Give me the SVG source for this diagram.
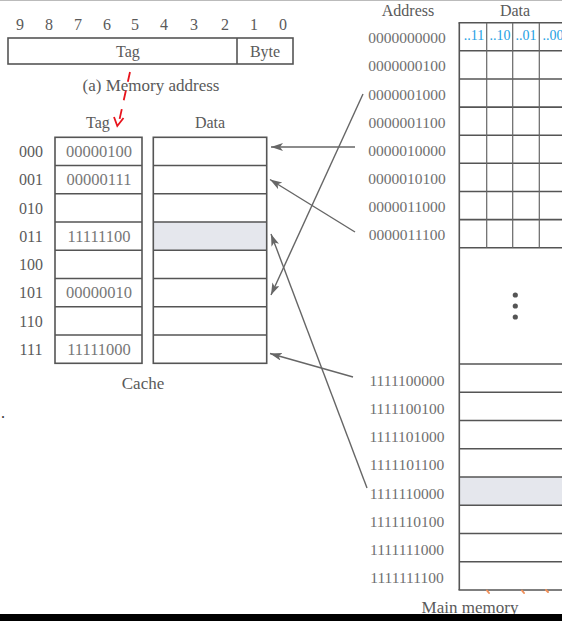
<svg xmlns="http://www.w3.org/2000/svg" width="562" height="621" viewBox="0 0 562 621">
<style>
  text { font-family: "Liberation Serif", "Times New Roman", serif; fill: #666; }
  .hdr { font-size: 16px; fill: #5a5a5a; text-anchor: middle; }
  .cap { font-size: 17px; fill: #5a5a5a; text-anchor: middle; }
  .lbl { font-size: 16px; fill: #5a5a5a; text-anchor: middle; }
  .val { font-size: 16.5px; fill: #777; text-anchor: middle; }
  .adr { font-size: 15.5px; fill: #707070; text-anchor: middle; }
  .blue { font-size: 14px; fill: #1e9fe3; text-anchor: middle; }
  .box { fill: none; stroke: #555; stroke-width: 1.6; }
  .ln { stroke: #555; stroke-width: 1.6; fill: none; }
  .thin { stroke: #666; stroke-width: 1.2; fill: none; }
  .shade { fill: #e5e7ed; }
  .conn { stroke: #666; stroke-width: 1.4; fill: none; marker-end: url(#arr); }
</style>
<defs>
  <marker id="arr" markerUnits="userSpaceOnUse" markerWidth="14" markerHeight="10" refX="12" refY="4" orient="auto">
    <path d="M0,0 L12,4 L0,8 L3,4 z" fill="#666"/>
  </marker>
</defs>
<rect width="562" height="621" fill="#fff"/>
<line x1="0" y1="0.5" x2="562" y2="0.5" stroke="#bbb" stroke-width="1"/>

<g id="memory-address">
  <text class="lbl" x="20" y="30">9</text>
  <text class="lbl" x="49" y="30">8</text>
  <text class="lbl" x="78" y="30">7</text>
  <text class="lbl" x="107" y="30">6</text>
  <text class="lbl" x="135" y="30">5</text>
  <text class="lbl" x="164" y="30">4</text>
  <text class="lbl" x="194" y="30">3</text>
  <text class="lbl" x="225" y="30">2</text>
  <text class="lbl" x="254" y="30">1</text>
  <text class="lbl" x="283" y="30">0</text>
  <rect class="box" x="8" y="38" width="285" height="26"/>
  <line class="ln" x1="237" y1="38" x2="237" y2="64"/>
  <text class="lbl" x="128" y="57">Tag</text>
  <text class="lbl" x="265" y="57">Byte</text>
  <text class="cap" x="151" y="91">(a) Memory address</text>
</g>

<g id="red-arrow">
  <line x1="130" y1="72" x2="118.5" y2="124" stroke="#e8141c" stroke-width="1.8" stroke-dasharray="10,9"/>
  <path d="M114,117 L117.3,126 L123.5,118" fill="none" stroke="#e8141c" stroke-width="1.8"/>
</g>

<g id="cache">
  <text class="hdr" x="98" y="128">Tag</text>
  <text class="hdr" x="210" y="128">Data</text>
  <rect class="shade" x="153.3" y="221.8" width="113.4" height="28.2"/>
  <rect class="box" x="55" y="137.3" width="87" height="226"/>
  <rect class="box" x="153.3" y="137.3" width="113.4" height="226"/>
  <g class="ln">
    <line x1="55" y1="165.5" x2="142" y2="165.5"/><line x1="153.3" y1="165.5" x2="266.7" y2="165.5"/>
    <line x1="55" y1="193.8" x2="142" y2="193.8"/><line x1="153.3" y1="193.8" x2="266.7" y2="193.8"/>
    <line x1="55" y1="222" x2="142" y2="222"/><line x1="153.3" y1="222" x2="266.7" y2="222"/>
    <line x1="55" y1="250.3" x2="142" y2="250.3"/><line x1="153.3" y1="250.3" x2="266.7" y2="250.3"/>
    <line x1="55" y1="278.5" x2="142" y2="278.5"/><line x1="153.3" y1="278.5" x2="266.7" y2="278.5"/>
    <line x1="55" y1="306.8" x2="142" y2="306.8"/><line x1="153.3" y1="306.8" x2="266.7" y2="306.8"/>
    <line x1="55" y1="335" x2="142" y2="335"/><line x1="153.3" y1="335" x2="266.7" y2="335"/>
  </g>
  <text class="lbl" x="31" y="157">000</text>
  <text class="lbl" x="31" y="185.2">001</text>
  <text class="lbl" x="31" y="213.5">010</text>
  <text class="lbl" x="31" y="241.7">011</text>
  <text class="lbl" x="31" y="270">100</text>
  <text class="lbl" x="31" y="298.2">101</text>
  <text class="lbl" x="31" y="326.5">110</text>
  <text class="lbl" x="31" y="354.7">111</text>
  <text class="val" x="99" y="157">00000100</text>
  <text class="val" x="99" y="185.2">00000111</text>
  <text class="val" x="99" y="241.7">11111100</text>
  <text class="val" x="99" y="298.2">00000010</text>
  <text class="val" x="99" y="354.7">11111000</text>
  <text class="cap" x="143" y="389">Cache</text>
</g>

<g id="main-memory">
  <text class="hdr" x="408" y="16">Address</text>
  <text class="hdr" x="515" y="16">Data</text>
  <rect class="shade" x="459.3" y="477" width="103" height="28.3"/>
  <g class="ln">
    <line x1="459.3" y1="22.7" x2="459.3" y2="590"/>
    <line x1="458.5" y1="22.7" x2="562" y2="22.7"/>
    <line x1="459.3" y1="50.8" x2="562" y2="50.8"/>
    <line x1="459.3" y1="79" x2="562" y2="79"/>
    <line x1="459.3" y1="107.1" x2="562" y2="107.1"/>
    <line x1="459.3" y1="135.2" x2="562" y2="135.2"/>
    <line x1="459.3" y1="163.3" x2="562" y2="163.3"/>
    <line x1="459.3" y1="191.5" x2="562" y2="191.5"/>
    <line x1="459.3" y1="219.6" x2="562" y2="219.6"/>
    <line x1="459.3" y1="247.7" x2="562" y2="247.7"/>
    <line x1="459.3" y1="364" x2="562" y2="364"/>
    <line x1="459.3" y1="392.3" x2="562" y2="392.3"/>
    <line x1="459.3" y1="420.5" x2="562" y2="420.5"/>
    <line x1="459.3" y1="448.8" x2="562" y2="448.8"/>
    <line x1="459.3" y1="477" x2="562" y2="477"/>
    <line x1="459.3" y1="505.3" x2="562" y2="505.3"/>
    <line x1="459.3" y1="533.5" x2="562" y2="533.5"/>
    <line x1="459.3" y1="561.8" x2="562" y2="561.8"/>
    <line x1="458.5" y1="590" x2="562" y2="590"/>
  </g>
  <g class="thin">
    <line x1="486.7" y1="22.7" x2="486.7" y2="247.7"/>
    <line x1="512.7" y1="22.7" x2="512.7" y2="247.7"/>
    <line x1="539.3" y1="22.7" x2="539.3" y2="247.7"/>
  </g>
  <text class="blue" x="474" y="39.5">..11</text>
  <text class="blue" x="500" y="39.5">..10</text>
  <text class="blue" x="526" y="39.5">..01</text>
  <text class="blue" x="553" y="39.5">..00</text>
  <circle cx="515.3" cy="295" r="2.6" fill="#555"/>
  <circle cx="515.3" cy="306" r="2.6" fill="#555"/>
  <circle cx="515.3" cy="317" r="2.6" fill="#555"/>
  <text class="adr" x="407" y="43.3">0000000000</text>
  <text class="adr" x="407" y="71.4">0000000100</text>
  <text class="adr" x="407" y="99.5">0000001000</text>
  <text class="adr" x="407" y="127.6">0000001100</text>
  <text class="adr" x="407" y="155.7">0000010000</text>
  <text class="adr" x="407" y="183.8">0000010100</text>
  <text class="adr" x="407" y="212">0000011000</text>
  <text class="adr" x="407" y="240.1">0000011100</text>
  <text class="adr" x="407" y="385.5">1111100000</text>
  <text class="adr" x="407" y="413.7">1111100100</text>
  <text class="adr" x="407" y="442">1111101000</text>
  <text class="adr" x="407" y="470.2">1111101100</text>
  <text class="adr" x="407" y="498.5">1111110000</text>
  <text class="adr" x="407" y="526.7">1111110100</text>
  <text class="adr" x="407" y="555">1111111000</text>
  <text class="adr" x="407" y="583.2">1111111100</text>
  <text class="cap" x="470" y="612.7">Main memory</text>
  <g stroke="#f0905a" stroke-width="2" stroke-linecap="round">
    <line x1="487" y1="590.5" x2="489" y2="593"/>
    <line x1="522" y1="590.5" x2="524" y2="593"/>
    <line x1="546" y1="590" x2="548" y2="592"/>
  </g>
</g>

<g id="connectors">
  <line class="conn" x1="355" y1="147" x2="271" y2="147"/>
  <line class="conn" x1="355" y1="232" x2="270" y2="179.5"/>
  <line class="conn" x1="363" y1="94" x2="271" y2="295"/>
  <line class="conn" x1="367" y1="488" x2="271" y2="234"/>
  <line class="conn" x1="353" y1="377" x2="270" y2="353.5"/>
</g>

<text x="1" y="418" style="font-size:16px;fill:#333">.</text>
<rect x="0" y="614" width="562" height="7" fill="#000"/>
</svg>
